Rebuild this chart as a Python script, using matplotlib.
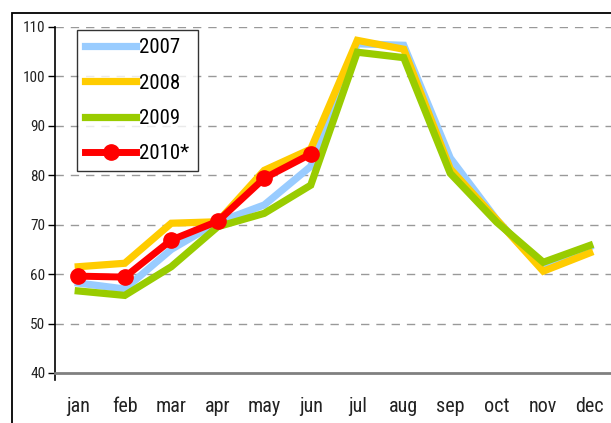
import matplotlib
matplotlib.use("Agg")
import matplotlib.pyplot as plt
from matplotlib.patches import Rectangle
from matplotlib.lines import Line2D
from matplotlib import font_manager

months = ["jan", "feb", "mar", "apr", "may", "jun", "jul", "aug", "sep", "oct", "nov", "dec"]
y2007 = [58.2, 57.0, 65.0, 70.5, 74.0, 81.8, 106.6, 106.3, 83.5, 71.0, 61.0, 65.5]
y2008 = [61.5, 62.2, 70.3, 70.6, 81.0, 85.3, 107.3, 105.5, 81.3, 71.0, 60.6, 64.3]
y2009 = [56.6, 55.7, 61.5, 69.6, 72.3, 78.0, 104.9, 103.8, 80.4, 70.5, 62.4, 65.8]
y2010 = [59.6, 59.4, 66.9, 70.7, 79.4, 84.3]
yticks = [40, 50, 60, 70, 80, 90, 100, 110]

# look for a narrow font
fam = None
stretch = "normal"
names = [f.name for f in font_manager.fontManager.ttflist]
for cand in ["Liberation Sans Narrow", "Arial Narrow", "Roboto Condensed", "Open Sans Condensed",
             "DejaVu Sans Condensed"]:
    if cand in names:
        fam = cand
        break
if fam is None:
    for f in font_manager.fontManager.ttflist:
        if f.name == "DejaVu Sans" and str(f.stretch) in ("condensed", "semi-condensed", "87", "75"):
            fam = "DejaVu Sans"
            stretch = "condensed"
            break
if fam is None:
    fam = "DejaVu Sans"
plt.rcParams["font.family"] = [fam, "DejaVu Sans"]
plt.rcParams["font.stretch"] = stretch

W, H = 611, 423
fig = plt.figure(figsize=(W / 100, H / 100), dpi=100)

# outer border
fig.patches.append(Rectangle((12 / W, -0.05), 1.1, (H - 13) / H + 0.05, transform=fig.transFigure,
                             fill=False, edgecolor="#000000", linewidth=1.3))

ax = fig.add_axes([55 / W, 50 / H, 558 / W, 346 / H])
x = list(range(len(months)))

ax.plot(x, y2007, color="#99CCFF", lw=5.2, solid_joinstyle="miter", label="2007")
ax.plot(x, y2008, color="#FFCC00", lw=5.2, solid_joinstyle="miter", label="2008")
ax.plot(x, y2009, color="#99CC00", lw=5.2, solid_joinstyle="miter", label="2009")
ax.plot(x[:len(y2010)], y2010, color="#FF0000", lw=5, marker="o", markersize=11, label="2010*")

ax.set_xlim(-0.5, 11.5)
ax.set_ylim(40, 110)
ax.set_yticks(yticks)
ax.set_yticklabels([str(v) for v in yticks], fontsize=11, color="#222222")
ax.set_xticks(x)
ax.set_xticklabels(months, fontsize=14.5, color="#222222")
ax.tick_params(axis="x", length=0, pad=17)
ax.tick_params(axis="y", length=5, width=1, direction="out", pad=2)

for v in yticks[1:]:
    ax.axhline(v, color="#999999", lw=1, dashes=(6, 5), zorder=0)

for s in ["top", "right"]:
    ax.spines[s].set_visible(False)
ax.spines["bottom"].set_color("#808080")
ax.spines["bottom"].set_linewidth(2)
ax.spines["left"].set_linewidth(1.2)
ax.add_line(Line2D([0, 0], [0, -7 / 346], transform=ax.transAxes, color="black", lw=1.2, clip_on=False))

leg = ax.legend(loc="upper left", bbox_to_anchor=(22 / 558, 343 / 346), fontsize=15,
                frameon=True, fancybox=False, edgecolor="#000000", handlelength=2.45,
                handletextpad=0.15, labelspacing=0.78, borderpad=0.4, borderaxespad=0)
leg.get_frame().set_linewidth(1)

fig.savefig("out.png", dpi=100)
